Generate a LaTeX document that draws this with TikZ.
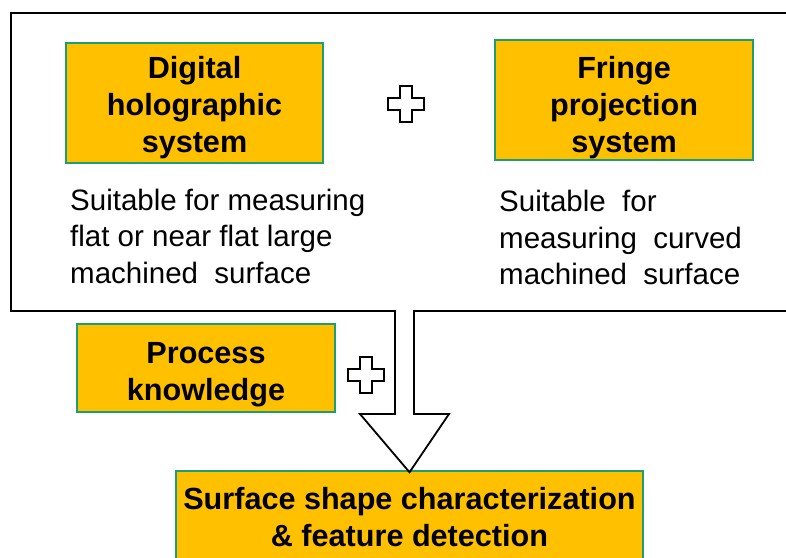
\documentclass[tikz,border=0pt]{standalone}
\usepackage{fontspec}
\setmainfont{Liberation Sans}
\definecolor{boxfill}{HTML}{FFC000}
\definecolor{boxedge}{HTML}{1A9E72}
\newcommand{\lift}[1]{\rule{0pt}{#1pt}}
\begin{document}
\begin{tikzpicture}[x=1pt,y=-1pt,
  hbox/.style={draw=boxedge, line width=1.5pt, fill=boxfill,
    font=\fontsize{30.6}{37}\selectfont\bfseries, align=center, inner sep=0pt},
  desc/.style={font=\fontsize{29.5}{36.5}\selectfont, align=left,
    anchor=north west, inner sep=0pt},
  outline/.style={line width=1.8pt, line join=miter},
  pics/plusmark/.style={code={
    \draw[line width=1.3pt, fill=white] (-6,-18) -- (6,-18) -- (6,-6) -- (18,-6)
      -- (18,6) -- (6,6) -- (6,18) -- (-6,18) -- (-6,6) -- (-18,6) -- (-18,-6)
      -- (-6,-6) -- cycle;}}]
\useasboundingbox (0,0) rectangle (786,557);

\node[hbox, minimum width=257pt, minimum height=120pt] (dh) at (194.5,103)
  {\lift{31.5}Digital\\holographic\\system};
\node[hbox, minimum width=258pt, minimum height=120pt] (fp) at (624,100)
  {\lift{36.5}Fringe\\projection\\system};
\node[hbox, minimum width=258pt, minimum height=88pt] (pk) at (206,368)
  {\lift{35}Process\\knowledge};
\node[hbox, minimum width=467pt, minimum height=92pt] (sf) at (409.5,517)
  {Surface shape characterization\\\& feature detection};

\node[desc] (dht) at (70,188.5)
  {Suitable\ for measuring\\flat or near flat large\\machined\ \ surface};
\node[desc] (fpt) at (499,190)
  {Suitable\ \ for\\measuring\ \ curved\\machined\ \ surface};

\pic at (406,104) {plusmark};
\pic at (366,375) {plusmark};

\coordinate (tip) at ([yshift=-2pt]sf.north);
\draw[outline] (800,13) -- (11,13) -- (11,311) -- (395,311) -- (395,414)
  -- (360,414) -- (tip) -- (449,414) -- (414,414) -- (414,311) -- (800,311);
\end{tikzpicture}
\end{document}
